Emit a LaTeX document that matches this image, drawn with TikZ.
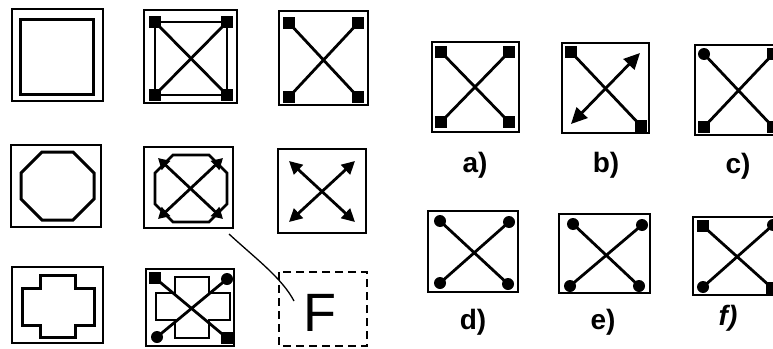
\documentclass[tikz,border=0pt]{standalone}
\usepackage{fontspec}
\setsansfont{Liberation Sans}
\usetikzlibrary{arrows.meta}
\tikzset{
  frame/.style={line width=2.6pt},
  xline/.style={line width=2.8pt},
  sqm/.style={fill=black, rectangle, minimum size=12pt, inner sep=0pt},
  dotm/.style={fill=black, circle, minimum size=12pt, inner sep=0pt},
  lab/.style={font=\fontsize{28}{30}\selectfont\bfseries\sffamily, inner sep=0pt},
  tipA/.tip={Triangle[length=11pt,width=12pt]},
  tipB/.tip={Triangle[length=13pt,width=13pt]},
  tipC/.tip={Triangle[length=16pt,width=15pt]}
}
\newcommand{\myoct}[5]{%
  (#1+#5,#2) -- (#3-#5,#2) -- (#3,#2+#5) -- (#3,#4-#5) -- (#3-#5,#4) -- (#1+#5,#4) -- (#1,#4-#5) -- (#1,#2+#5) -- cycle}
\begin{document}
\begin{tikzpicture}[x=1pt,y=-1pt]
\useasboundingbox (0,0) rectangle (773,348);
\fill[white] (0,0) rectangle (773,348);
\clip (0,0) rectangle (773,348);

% ---------- row 1 ----------
\draw[frame] (12,9) rectangle (103,101);
\draw[frame, line width=3pt] (20,19) rectangle (93,94);

\draw[frame] (144,10) rectangle (237,103);
\node[sqm] (b2a) at (155,22) {};
\node[sqm] (b2b) at (227,22) {};
\node[sqm] (b2c) at (155,95) {};
\node[sqm] (b2d) at (227,95) {};
\draw[xline] (b2a.center) rectangle (b2d.center);
\draw[xline] (b2a.center) -- (b2d.center) (b2b.center) -- (b2c.center);

\draw[frame] (279,11) rectangle (368,105);
\node[sqm] (b3a) at (289,23) {};
\node[sqm] (b3b) at (358,23) {};
\node[sqm] (b3c) at (289,97) {};
\node[sqm] (b3d) at (358,97) {};
\draw[xline] (b3a.center) -- (b3d.center) (b3b.center) -- (b3c.center);

% ---------- row 2 ----------
\draw[frame] (11,145) rectangle (101,227);
\draw[frame, line width=3pt] \myoct{21}{152}{94}{220}{21};

\draw[frame] (144,147) rectangle (233,228);
\draw[frame, line width=2.8pt] \myoct{155}{155}{227}{222}{18};
\coordinate (b5a) at (158,158);
\coordinate (b5b) at (223,158);
\coordinate (b5c) at (158,219);
\coordinate (b5d) at (223,219);
\draw[xline, tipA-tipA] (b5a) -- (b5d);
\draw[xline, tipA-tipA] (b5b) -- (b5c);

\draw[frame] (278,149) rectangle (366,233);
\coordinate (b6a) at (289,161);
\coordinate (b6b) at (355,161);
\coordinate (b6c) at (289,222);
\coordinate (b6d) at (355,222);
\draw[xline, tipB-tipB] (b6a) -- (b6d);
\draw[xline, tipB-tipB] (b6b) -- (b6c);

% ---------- row 3 ----------
\draw[frame] (12,267) rectangle (103,343);
\draw[frame, line width=3pt] (40,275) -- (75,275) -- (75,288) -- (94,288) -- (94,325) -- (75,325) -- (75,337) -- (40,337) -- (40,325) -- (22,325) -- (22,288) -- (40,288) -- cycle;

\draw[frame] (146,269) rectangle (234,346);
\draw[frame, line width=2.4pt] (175,277) -- (209,277) -- (209,293) -- (230,293) -- (230,320) -- (209,320) -- (209,338) -- (175,338) -- (175,320) -- (156,320) -- (156,293) -- (175,293) -- cycle;
\node[sqm] (b8a) at (155,278) {};
\node[dotm] (b8b) at (227,279) {};
\node[dotm] (b8c) at (157,337) {};
\node[sqm] (b8d) at (227,338) {};
\draw[xline] (b8a.center) -- (b8d.center) (b8b.center) -- (b8c.center);

\draw[line width=2.6pt, dash pattern=on 8pt off 5pt] (279,272) rectangle (367,346);
\node[font=\fontsize{54}{56}\selectfont\sffamily, inner sep=0pt] (F) at (320,313) {F};

% connector
\coordinate (c5) at (229,234);
\coordinate (cf) at (294,301);
\draw[line width=1.3pt] (c5) .. controls (255,258) and (282,278) .. (cf);

% ---------- options ----------
% a
\draw[frame] (432,42) rectangle (519,132);
\node[sqm] (oaa) at (441,52) {};
\node[sqm] (oab) at (509,52) {};
\node[sqm] (oac) at (441,122) {};
\node[sqm] (oad) at (509,122) {};
\draw[xline] (oaa.center) -- (oad.center) (oab.center) -- (oac.center);
\node[lab] (la) at (475,165) {a)};

% b
\draw[frame] (562,43) rectangle (649,133);
\node[sqm] (oba) at (571,52) {};
\node[sqm] (obd) at (641,126) {};
\coordinate (obb) at (640,53);
\coordinate (obc) at (571,124);
\draw[xline] (oba.center) -- (obd.center);
\draw[xline, tipC-tipC] (obc) -- (obb);
\node[lab] (lb) at (606,165) {b)};

% c
\draw[frame] (695,45) rectangle (783,135);
\node[dotm] (oca) at (704,54) {};
\node[sqm] (ocb) at (773,54) {};
\node[sqm] (occ) at (704,127) {};
\node[sqm] (ocd) at (773,127) {};
\draw[xline] (oca.center) -- (ocd.center) (ocb.center) -- (occ.center);
\node[lab] (lc) at (738,166) {c)};

% d
\draw[frame] (428,211) rectangle (518,292);
\node[dotm] (oda) at (440,221) {};
\node[dotm] (odb) at (509,222) {};
\node[dotm] (odc) at (440,283) {};
\node[dotm] (odd) at (508,284) {};
\draw[xline] (oda.center) -- (odd.center) (odb.center) -- (odc.center);
\node[lab] (ld) at (473,322) {d)};

% e
\draw[frame] (559,214) rectangle (650,293);
\node[dotm] (oea) at (573,224) {};
\node[dotm] (oeb) at (642,225) {};
\node[dotm] (oec) at (570,286) {};
\node[dotm] (oed) at (639,286) {};
\draw[xline] (oea.center) -- (oed.center) (oeb.center) -- (oec.center);
\node[lab] (le) at (603,322) {e)};

% f
\draw[frame] (693,217) rectangle (783,295);
\node[sqm] (ofa) at (703,226) {};
\node[dotm] (ofb) at (773,225) {};
\node[dotm] (ofc) at (703,287) {};
\node[sqm] (ofd) at (772,288) {};
\draw[xline] (ofa.center) -- (ofd.center) (ofb.center) -- (ofc.center);
\node[lab, font=\fontsize{28}{30}\selectfont\bfseries\itshape\sffamily] (lf) at (728,318) {f)};
\end{tikzpicture}
\end{document}
